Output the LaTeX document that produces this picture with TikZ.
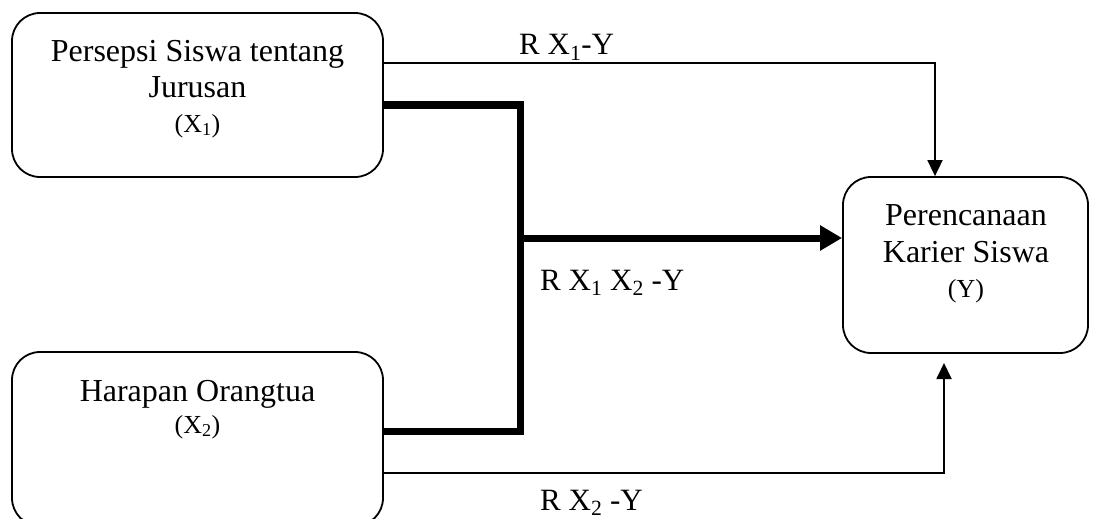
\documentclass[tikz,border=0pt]{standalone}
\usepackage{fontspec}
\setmainfont{Liberation Serif}
\usetikzlibrary{arrows.meta}
\tikzset{
  box/.style={draw, line width=1.8pt, rounded corners=28pt, inner sep=0pt},
  txtmain/.style={inner sep=0pt, anchor=base, font=\fontsize{32}{38}\selectfont},
  txtsmall/.style={inner sep=0pt, anchor=base, font=\fontsize{26}{30}\selectfont},
  lbl/.style={inner sep=0pt, anchor=base west, font=\fontsize{31}{36}\selectfont},
  thinarrow/.style={line width=1.8pt, -{Triangle[length=16pt,width=15pt]}},
  thinline/.style={line width=1.8pt},
  heavyline/.style={line width=7pt, line join=miter},
  heavyarrow/.style={line width=7pt, -{Triangle[length=22pt,width=24pt]}}
}
\begin{document}
\begin{tikzpicture}[x=1pt,y=-1pt]
\useasboundingbox[fill=white] (0,0) rectangle (1093,519);
% boxes
\node[box, minimum width=371pt, minimum height=164pt] (x1) at (197.5,95) {};
\node[box, minimum width=371pt, minimum height=174pt] (x2) at (197.5,439) {};
\node[box, minimum width=245pt, minimum height=176pt] (y) at (965.5,265) {};
% box texts
\node[txtmain] (x1a) at (197.5,62) {Persepsi Siswa tentang};
\node[txtmain] (x1b) at (197.5,98) {Jurusan};
\node[txtsmall] (x1c) at (197.5,132) {(X\textsubscript{1})};
\node[txtmain] (x2a) at (197.5,401) {Harapan Orangtua};
\node[txtsmall] (x2b) at (197.5,433) {(X\textsubscript{2})};
\node[txtmain] (ya) at (966,225) {Perencanaan};
\node[txtmain] (yb) at (966,262) {Karier Siswa};
\node[txtsmall] (yc) at (966,297) {(Y)};
% helper coordinates
\coordinate (l1) at (0,63);
\coordinate (a1) at (935,0);
\coordinate (j1) at (520,105);
\coordinate (j2) at (520,431);
\coordinate (jm) at (520,238);
\coordinate (b1) at (0,473);
\coordinate (a2) at (944,363);
% connectors
\draw[thinarrow] (x1.east |- l1) -| (y.north -| a1);
\draw[heavyline] (x1.east |- j1) -- (j1) -- (j2) -- (x2.east |- j2);
\draw[heavyarrow] (jm) -- (y.west |- jm);
\draw[thinarrow] (x2.east |- b1) -| (a2);
% labels
\node[lbl] (r1) at (519,55) {R X\textsubscript{1}-Y};
\node[lbl] (r12) at (540,290) {R X\textsubscript{1} X\textsubscript{2} -Y};
\node[lbl] (r2) at (540,510) {R X\textsubscript{2} -Y};
\end{tikzpicture}
\end{document}
